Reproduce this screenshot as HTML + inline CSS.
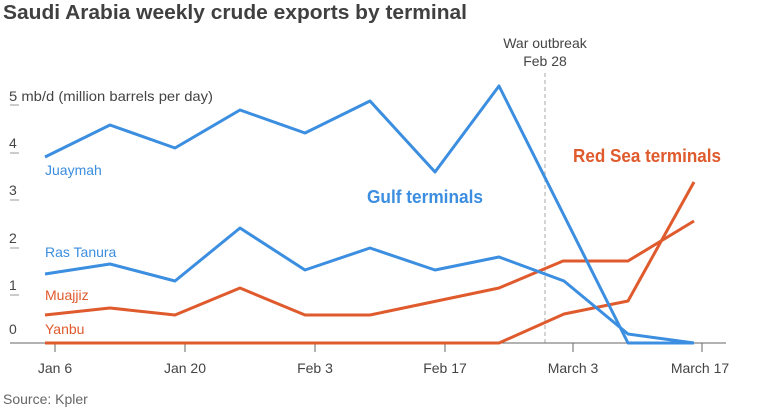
<!DOCTYPE html><html><head><style>body{margin:0;background:#fff}svg{display:block;font-family:"Liberation Sans",sans-serif}</style></head><body>
<svg width="765" height="416" viewBox="0 0 765 416">
<text x="3" y="19" font-size="20" font-weight="bold" fill="#404040" textLength="464" lengthAdjust="spacingAndGlyphs">Saudi Arabia weekly crude exports by terminal</text>
<g stroke="#999" stroke-width="1">
<line x1="10" y1="105" x2="19" y2="105"/><line x1="10" y1="153" x2="19" y2="153"/><line x1="10" y1="200" x2="19" y2="200"/><line x1="10" y1="248" x2="19" y2="248"/><line x1="10" y1="295" x2="19" y2="295"/>
</g>
<g font-size="14" fill="#444">
<text x="9" y="101" textLength="204" lengthAdjust="spacingAndGlyphs">5 mb/d (million barrels per day)</text>
<text x="9" y="148">4</text><text x="9" y="195">3</text><text x="9" y="243">2</text><text x="9" y="290">1</text><text x="9" y="334">0</text>
<text x="55" y="373" text-anchor="middle">Jan 6</text><text x="185" y="373" text-anchor="middle">Jan 20</text><text x="315" y="373" text-anchor="middle">Feb 3</text><text x="445" y="373" text-anchor="middle">Feb 17</text><text x="573" y="373" text-anchor="middle">March 3</text><text x="700" y="373" text-anchor="middle">March 17</text>
<text x="3" y="404" fill="#666">Source: Kpler</text>
<text x="545" y="48" text-anchor="middle">War outbreak</text><text x="545" y="66" text-anchor="middle">Feb 28</text>
</g>
<line x1="545" y1="73" x2="545" y2="343" stroke="#aaa" stroke-dasharray="4,3"/>
<line x1="10" y1="343" x2="726" y2="343" stroke="#666"/>
<g stroke="#666"><line x1="55" y1="343" x2="55" y2="352"/><line x1="185" y1="343" x2="185" y2="352"/><line x1="315" y1="343" x2="315" y2="352"/><line x1="445" y1="343" x2="445" y2="352"/><line x1="573" y1="343" x2="573" y2="352"/><line x1="702" y1="343" x2="702" y2="352"/></g>
<g fill="none" stroke-width="3" stroke-linejoin="round">
<polyline stroke="#df5a2c" points="45,343 110,343 175,343 240,343 305,343 370,343 435,343 499,343 564,314 628,301 694,182"/>
<polyline stroke="#df5a2c" points="45,315 110,308 175,315 240,288 305,315 370,315 499,288 563,261 628,261 694,221"/>
<polyline stroke="#3b8ee0" points="45,274 110,264 175,281 240,228 305,270 370,248 435,270 499,257 564,281 628,334 694,343"/>
<polyline stroke="#3b8ee0" points="45,157 110,125 175,148 240,110 305,133 370,101 435,172 499,86 628,343 694,343"/>
</g>
<g font-size="14">
<text x="45" y="175" fill="#3b8ee0">Juaymah</text><text x="45" y="257" fill="#3b8ee0">Ras Tanura</text>
<text x="45" y="300" fill="#df5a2c">Muajjiz</text><text x="45" y="334" fill="#df5a2c">Yanbu</text>
</g>
<text x="367" y="203" font-size="18" font-weight="bold" fill="#3b8ee0" textLength="116" lengthAdjust="spacingAndGlyphs">Gulf terminals</text>
<text x="573" y="162" font-size="18" font-weight="bold" fill="#df5a2c" textLength="148" lengthAdjust="spacingAndGlyphs">Red Sea terminals</text>
</svg></body></html>
